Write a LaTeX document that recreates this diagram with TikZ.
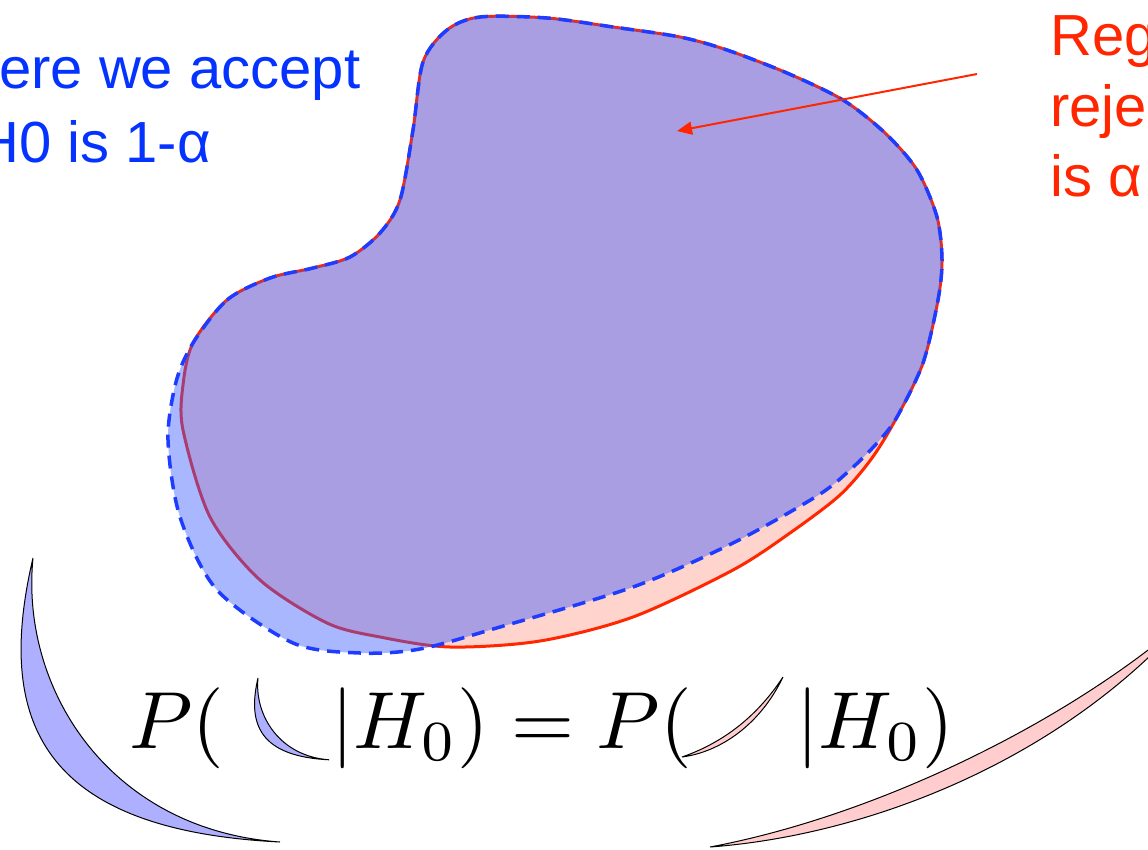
\documentclass[tikz,border=0pt]{standalone}
\usepackage{fontspec}
\usepackage{tikz}
\usetikzlibrary{arrows.meta}
\newfontfamily\labelfont{Liberation Sans}
\definecolor{acceptblue}{HTML}{0433FF}
\definecolor{rejectred}{HTML}{FF2600}
\definecolor{regionblue}{RGB}{60,90,255}
\definecolor{dashblue}{HTML}{1E3CFF}
\definecolor{leafblue}{HTML}{AFAFFF}
\definecolor{leafpink}{HTML}{FFCDCD}
\tikzset{
  acc/.style={font=\labelfont\fontsize{58}{70}\selectfont, text=acceptblue, inner sep=0pt},
  rej/.style={font=\labelfont\fontsize{58}{70}\selectfont, text=rejectred, inner sep=0pt},
  eqn/.style={scale=8.1, inner sep=0pt},
  rejregion/.style={draw=rejectred, line width=3pt, fill=rejectred, fill opacity=0.2},
  accregion/.style={draw=dashblue, line width=3.5pt, dash pattern=on 13pt off 8pt,
    fill=regionblue, fill opacity=0.44},
  leafB/.style={draw=black, line width=1pt, fill=leafblue},
  leafR/.style={draw=black, line width=1pt, fill=leafpink},
  a/.style={-{Triangle[length=15pt, width=13pt]}, line width=2pt, draw=rejectred},
}

\begin{document}
\begin{tikzpicture}[x=1pt, y=-1pt]

\useasboundingbox (0,0) rectangle (1148,849);
\clip (0,0) rectangle (1148,849);

% ═══════════════════════════════════════════════════════════════
% REGIONS — rejection (red, solid) under acceptance (blue, dashed)
% ═══════════════════════════════════════════════════════════════
\draw[rejregion] plot[smooth cycle] coordinates {
  (193,343) (227,300) (270,278) (313,268) (350,257) (380,233) (400,200)
  (413,130) (423,62) (447,30) (480,17) (547,18) (613,27) (680,37) (727,50)
  (787,73) (843,100) (885,133) (917,170) (937,217) (942,260) (938,300)
  (923,363) (897,417) (872,458) (840,495) (790,533) (733,570) (633,617)
  (540,641) (450,647) (380,637) (327,623) (260,580) (210,517) (183,430)
  (183,385)};

\draw[accregion] plot[smooth cycle] coordinates {
  (193,343) (227,300) (270,278) (313,268) (350,257) (380,233) (400,200)
  (413,130) (423,62) (447,30) (480,17) (547,18) (613,27) (680,37) (727,50)
  (787,73) (843,100) (885,133) (917,170) (937,217) (942,260) (938,300)
  (923,363) (897,417) (878,442) (850,470) (817,496) (733,543) (633,587)
  (500,627) (420,649) (360,653) (293,643) (217,590) (180,517) (168,440)
  (176,382)};

% Arrow into the region
\coordinate (tail) at (977,74);
\coordinate (tip) at (677,131);
\draw[a] (tail) -- (tip);

% ═══════════════════════════════════════════════════════════════
% LABELS
% ═══════════════════════════════════════════════════════════════
\node[acc, anchor=base west] (accA) at (-1,88) {ere we accept};
\node[acc, anchor=base east] (accB) at (211,162) {H0 is 1-α};

\node[rej, anchor=base west] (rejA) at (1050,55) {Reg};
\node[rej, anchor=base west] (rejB) at (1050,126) {reje};
\node[rej, anchor=base west] (rejC) at (1050,196) {is α};

% ═══════════════════════════════════════════════════════════════
% FORMULA and crescents
% ═══════════════════════════════════════════════════════════════
\node[eqn, anchor=base west] (formula) at (128,748)
  {$P(\hspace{13.2pt}|H_0)=P(\hspace{12.9pt}|H_0)$};

% big crescents
\draw[leafB] (33,558) .. controls (-5,720) and (40,830) .. (280,842)
  .. controls (110,830) and (20,690) .. (33,558) -- cycle;
\draw[leafR] (710,847) .. controls (870,835) and (1060,760) .. (1185,620)
  .. controls (1070,720) and (880,815) .. (710,847) -- cycle;

% small crescents inside the formula
\begin{scope}[shift={(258,678)}, scale=0.288, shift={(-33,-558)}]
  \draw[leafB] (33,558) .. controls (-5,720) and (40,830) .. (280,842)
    .. controls (110,830) and (20,690) .. (33,558) -- cycle;
\end{scope}
\draw[leafR] (682,757) .. controls (720,752) and (760,725) .. (783,677)
  .. controls (758,715) and (725,742) .. (682,757) -- cycle;

\end{tikzpicture}
\end{document}
